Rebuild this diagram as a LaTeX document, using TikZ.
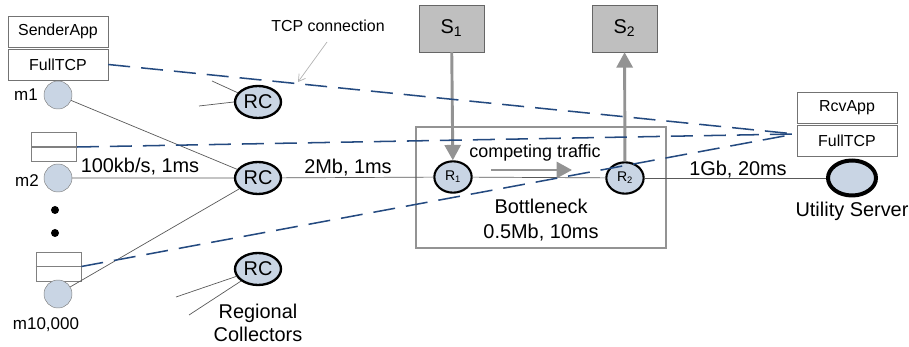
\documentclass[tikz,border=0pt]{standalone}
\usepackage{fontspec}
\setmainfont{Liberation Sans}
\usetikzlibrary{arrows.meta,shapes.geometric}
\definecolor{hostblue}{RGB}{201,213,228}
\definecolor{tcpblue}{RGB}{36,74,128}
\definecolor{srvgray}{RGB}{191,191,191}
\begin{document}
\begin{tikzpicture}[x=0.3mm,y=-0.3mm,
  lbl/.style={font=\fontsize{17}{20}\selectfont,inner sep=0},
  small/.style={font=\fontsize{13.6}{16}\selectfont,inner sep=0},
  appbox/.style={draw=gray!90!black,minimum width=30mm,minimum height=9.3mm,font=\fontsize{13.6}{16}\selectfont,inner sep=0},
  qbox/.style={draw=gray,minimum width=13.6mm,minimum height=8.7mm,inner sep=0},
  host/.style={circle,draw=gray,fill=hostblue,minimum size=8.4mm,inner sep=0},
  rc/.style={ellipse,draw,line width=2pt,fill=hostblue,minimum width=13.8mm,minimum height=9.6mm,inner sep=0,font=\fontsize{17}{20}\selectfont},
  router/.style={ellipse,draw,line width=1.8pt,fill=hostblue,minimum width=11.2mm,minimum height=9.4mm,inner sep=0,font=\fontsize{12}{14}\selectfont},
  srv/.style={draw=gray!80!black,fill=srvgray,minimum width=19.5mm,minimum height=14.1mm,inner sep=0,font=\fontsize{17}{20}\selectfont},
  link/.style={draw=black!65,line width=0.6pt},
  tcp/.style={draw=tcpblue,line width=1.3pt,dash pattern=on 6.6mm off 3.3mm},
  flow/.style={draw=gray!85,line width=2.5pt,-{Triangle[length=4.6mm,width=4.8mm]}}]
\useasboundingbox (0,0) rectangle (909,347);
% senders
\node[appbox] (sapp) at (58,31.5) {SenderApp};
\node[appbox] (stcp) at (58,64.5) {FullTCP};
\node[host] (m1) at (58,95) {};
\node[small,font=\fontsize{14.5}{17}\selectfont] (m1l) at (26,95) {m1};
\node[qbox] (q2) at (54,147) {};
\draw[gray,line width=1pt] (q2.west) -- (q2.east);
\node[host] (m2) at (58,178) {};
\node[small,font=\fontsize{14.5}{17}\selectfont] (m2l) at (27,181) {m2};
\node[circle,fill,minimum size=2.4mm,inner sep=0] (d1) at (55,210) {};
\node[circle,fill,minimum size=2.4mm,inner sep=0] (d2) at (55,233) {};
\node[qbox] (qn) at (58.5,266.5) {};
\draw[gray,line width=1pt] (qn.west) -- (qn.east);
\node[host] (mn) at (58,294) {};
\node[small,font=\fontsize{14.5}{17}\selectfont] (mnl) at (46,325) {m10,000};
% regional collectors
\node[rc] (rc1) at (258,102) {RC};
\node[rc] (rc2) at (258,178) {RC};
\node[rc] (rc3) at (258,269) {RC};
\coordinate (a1) at (212,81);
\coordinate (a2) at (199,106);
\coordinate (b1) at (176,297);
\coordinate (b2) at (189,315);
\draw[link] (a1) -- (rc1) (a2) -- (rc1.west);
\draw[link] (b1) -- (rc3) (b2) -- (rc3.south west);
\node[lbl,align=center] (rcl) at (258,323) {Regional\\[-1pt]Collectors};
\draw[link] (m1) -- (rc2) (m2) -- (rc2) (mn) -- (rc2);
\node[lbl] (l1) at (140,167) {100kb/s, 1ms};
% bottleneck
\node[draw=gray!85,line width=1.6pt,minimum width=75mm,minimum height=36.3mm] (bneck) at (541,187.5) {};
\node[router] (r1) at (453,177) {R\textsubscript{1}};
\node[router] (r2) at (625,178) {R\textsubscript{2}};
\node[srv] (s1) at (451.5,28.5) {S\textsubscript{1}};
\node[srv] (s2) at (624.5,28.5) {S\textsubscript{2}};
\draw[link] (rc2) -- (r1) -- (r2);
\node[lbl] (l2) at (348,168) {2Mb, 1ms};
\draw[flow] (s1) -- (r1);
\draw[flow] (r2) -- (s2);
\node[lbl,font=\fontsize{15.3}{18}\selectfont] (ct) at (535,153) {competing traffic};
\coordinate (c1) at (491,170);
\coordinate (c2) at (572,170);
\draw[flow] (c1) -- (c2);
\node[lbl,align=center] (bl) at (541,220) {Bottleneck\\[2pt]0.5Mb, 10ms};
% receiver
\node[appbox] (rapp) at (847,107.5) {RcvApp};
\node[appbox] (rtcp) at (847,141) {FullTCP};
\node[ellipse,draw,line width=3.4pt,fill=hostblue,minimum width=14.4mm,minimum height=10.5mm] (us) at (852,178) {};
\node[lbl] (usl) at (852,211) {Utility Server};
\draw[link] (r2) -- (us);
\node[lbl] (l3) at (738,170) {1Gb, 20ms};
% tcp connections
\coordinate (conv) at (795,134);
\draw[tcp] (stcp.east) -- (conv);
\draw[tcp] (q2.east) -- (conv);
\draw[tcp] (qn.east) -- (conv);
\node[small] (tcpl) at (328,26) {TCP connection};
\coordinate (tp) at (298,82);
\draw[gray!60,line width=0.6pt,-{Straight Barb[length=2mm,width=2.4mm]}] (327,42) -- (tp);
\end{tikzpicture}
\end{document}
